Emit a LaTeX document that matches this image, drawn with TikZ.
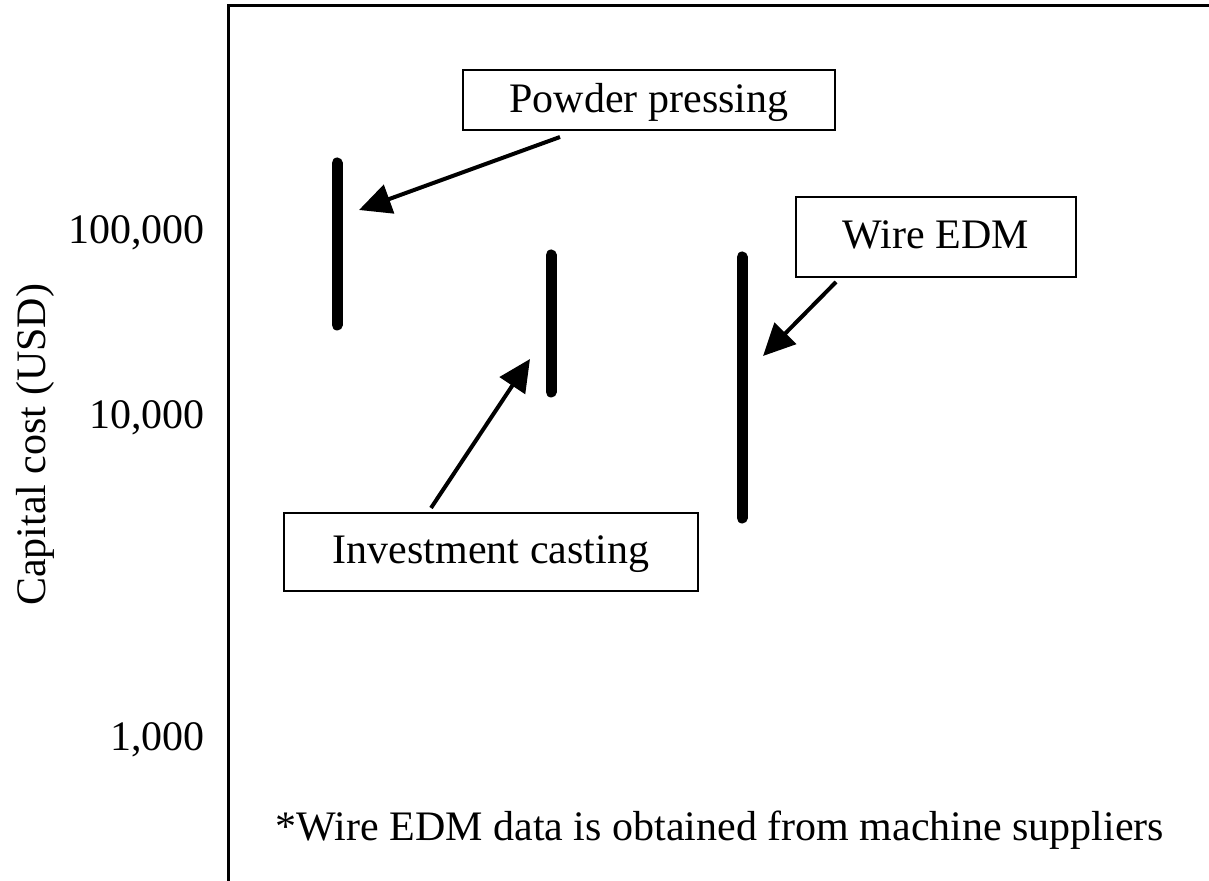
\documentclass[tikz,border=0pt]{standalone}
\usepackage{fontspec}
\setmainfont{Liberation Serif}
\usetikzlibrary{arrows.meta}

\begin{document}
\begin{tikzpicture}[x = 0.5pt, y = -0.5pt, font = \fontsize{21}{25}\selectfont,
    label box/.style = {draw, line width = 1pt, inner sep = 0pt, text depth = 2pt},
    bar/.style = {line width = 5.5pt, line cap = round},
    pointer/.style = {line width = 2pt, -{Triangle[length = 16pt, width = 15pt]}}]
  \useasboundingbox (0,0) rectangle (1209,881);
  \draw[line width = 1.5pt] (1209,6) -- (228,6) -- (228,881);
  \node[anchor = east] (t5) at (212,233) {100,000};
  \node[anchor = east] (t4) at (212,418) {10,000};
  \node[anchor = east] (t3) at (212,740) {1,000};
  \node[rotate = 90] (ylab) at (35,445) {Capital cost (USD)};
  \draw[bar] (337,163) -- (337,325);
  \draw[bar] (551,255) -- (551,392);
  \draw[bar] (742,257) -- (742,518);
  \node[label box, minimum width = 186pt, minimum height = 30pt] (PP) at (649,100) {Powder pressing};
  \node[label box, minimum width = 140pt, minimum height = 40pt] (WE) at (936,237) {Wire EDM};
  \node[label box, minimum width = 207pt, minimum height = 39pt] (IC) at (491,552) {Investment casting};
  \coordinate (PPtip) at (359,210);
  \coordinate (WEtip) at (763,356);
  \coordinate (ICtip) at (530,359);
  \draw[pointer] ([xshift = -44.5pt, yshift = -3pt] PP.south) -- (PPtip);
  \draw[pointer] ([xshift = -50pt, yshift = -2pt] WE.south) -- (WEtip);
  \draw[pointer] ([xshift = -30pt, yshift = 2pt] IC.north) -- (ICtip);
  \node (note) at (720,830) {*Wire EDM data is obtained from machine suppliers};
\end{tikzpicture}
\end{document}
